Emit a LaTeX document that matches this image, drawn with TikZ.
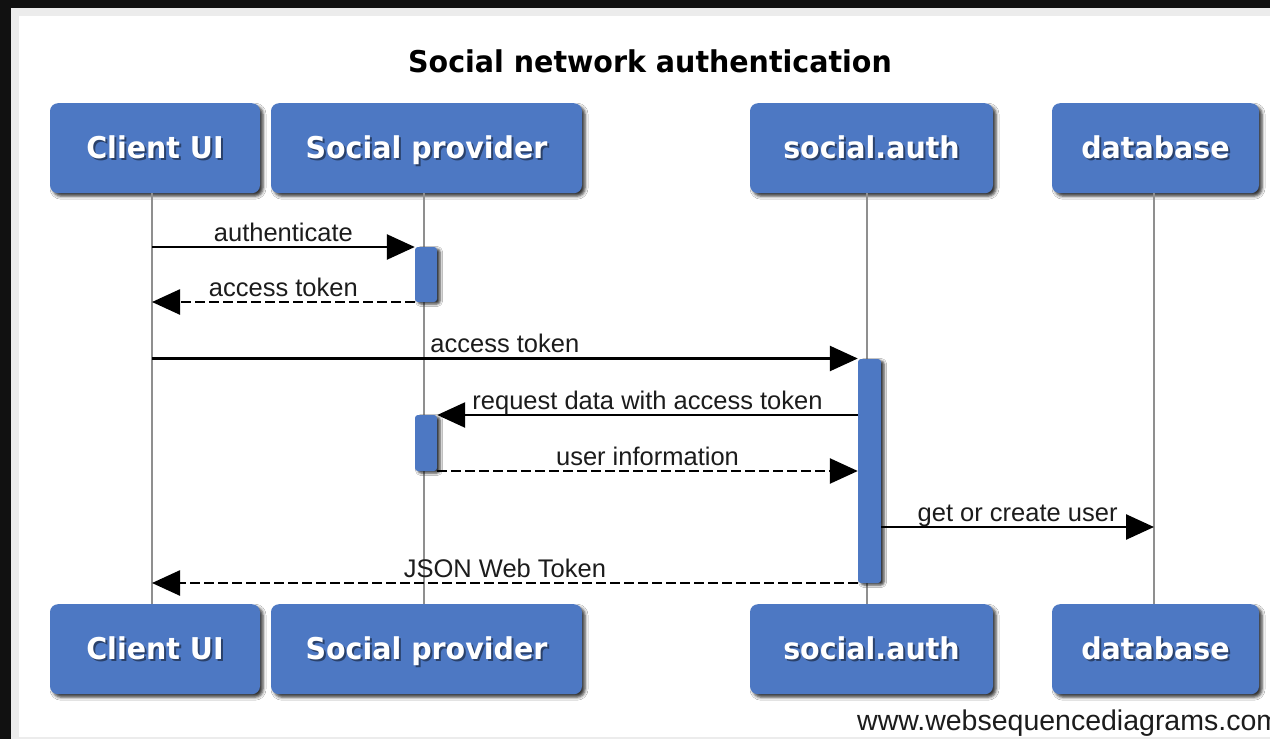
\documentclass[tikz,border=0pt]{standalone}
\usepackage{fontspec}
\setmainfont{Liberation Sans}
\newfontfamily\headfont[FakeStretch=0.95]{DejaVu Sans}
\usetikzlibrary{arrows.meta,shadows.blur}

\definecolor{actorblue}{HTML}{4D78C3}
\definecolor{lifegrey}{HTML}{8F8F8F}
\definecolor{framegrey}{HTML}{ECECEC}
\definecolor{outerblack}{HTML}{111111}
\definecolor{msgink}{HTML}{1C1C1C}

\tikzset{
  actor/.style={fill=actorblue, draw=none, rounded corners=8pt, inner sep=0pt,
    minimum height=90pt,
    blur shadow={shadow xshift=3pt, shadow yshift=-3pt, shadow blur radius=3pt, shadow opacity=80}},
  actorlabel/.style={font=\headfont\bfseries\fontsize{30}{36}\selectfont, inner sep=0pt, anchor=base},
  activation/.style={fill=actorblue, draw=none, rounded corners=3pt, inner sep=0pt,
    minimum width=22pt,
    blur shadow={shadow xshift=3pt, shadow yshift=-2pt, shadow blur radius=2.5pt, shadow opacity=80}},
  lifeline/.style={draw=lifegrey, line width=2pt},
  msg/.style={draw=black, line width=2.6pt, -{Triangle[length=28pt,width=25pt]}},
  reply/.style={msg, dash pattern=on 10pt off 4pt},
  msglabel/.style={font=\fontsize{25.5}{30}\selectfont, text=msgink, inner sep=0pt,
    anchor=base, midway, yshift=6pt},
}

% participant box with a soft-shadowed white caption
% #1 name, #2 centre x, #3 top y, #4 width, #5 caption
\newcommand\participant[5]{%
  \node[actor, minimum width=#4pt, anchor=north] (#1) at (#2,#3) {};
  \node[actorlabel, text=black, opacity=0.45] at ([xshift=2pt, yshift=-2pt]#2,#3+55.5) {#5};
  \node[actorlabel, text=white] at (#2,#3+55.5) {#5};
}

\begin{document}
\begin{tikzpicture}[x=1pt, y=-1pt]
  \useasboundingbox (0,0) rectangle (1270,739);
  \clip (0,0) rectangle (1270,739);

  % page background and frame
  \fill[outerblack] (0,0) rectangle (1270,739);
  \fill[framegrey] (11,8) rectangle (1270,739);
  \fill[white] (19,16) rectangle (1270,737);

  % title
  \node[font=\headfont\bfseries\fontsize{30}{36}\selectfont, text=black, inner sep=0pt, anchor=base]
    (title) at (650,72) {Social network authentication};

  % lifeline positions
  \coordinate (cuiX) at (152,0);
  \coordinate (spX)  at (424,0);
  \coordinate (saX)  at (867,0);
  \coordinate (dbX)  at (1154,0);

  % participants, top and bottom
  \participant{cuiT}{155}{103}{210}{Client UI}
  \participant{spT}{426.5}{103}{311}{Social provider}
  \participant{saT}{871.5}{103}{243}{social.auth}
  \participant{dbT}{1155.5}{103}{207}{database}

  % lifelines
  \draw[lifeline] (cuiT.south -| cuiX) -- (cuiX |- 0,604) coordinate (cuiE);
  \draw[lifeline] (spT.south -| spX) -- (spX |- 0,604) coordinate (spE);
  \draw[lifeline] (saT.south -| saX) -- (saX |- 0,604) coordinate (saE);
  \draw[lifeline] (dbT.south -| dbX) -- (dbX |- 0,604) coordinate (dbE);

  \participant{cuiB}{155}{604}{210}{Client UI}
  \participant{spB}{426.5}{604}{311}{Social provider}
  \participant{saB}{871.5}{604}{243}{social.auth}
  \participant{dbB}{1155.5}{604}{207}{database}

  % activation bars
  \node[activation, minimum height=55pt] (spA1) at (426,274.5) {};
  \node[activation, minimum height=56pt] (spA2) at (426,443) {};
  \node[activation, minimum width=23pt, minimum height=224pt] (saA) at (869.5,471) {};

  % message anchors on the lifelines
  \coordinate (m1) at (152,247);
  \coordinate (m2) at (152,302);
  \coordinate (m3) at (152,358.5);
  \coordinate (m4) at (858,415);
  \coordinate (m5) at (858,471);
  \coordinate (m6) at (1154,527);
  \coordinate (m7) at (152,583);

  % messages
  \draw[msg] (m1) -- (spA1.west |- m1) node[msglabel] {authenticate};
  \draw[reply] (spA1.west |- m2) -- (m2) node[msglabel] {access token};
  \draw[msg] (m3) -- (saA.west |- m3) node[msglabel] {access token};
  \draw[msg] (saA.west |- m4) -- (spA2.east |- m4) node[msglabel] {request data with access token};
  \draw[reply] (spA2.east |- m5) -- (saA.west |- m5) node[msglabel] {user information};
  \draw[msg] (saA.east |- m6) -- (m6) node[msglabel] {get or create user};
  \draw[reply] (saA.west |- m7) -- (m7) node[msglabel] {JSON Web Token};

  % footer
  \node[font=\fontsize{28.5}{34}\selectfont, text=msgink, inner sep=0pt, anchor=base west]
    (footer) at (857,730) {www.websequencediagrams.com};
\end{tikzpicture}
\end{document}
